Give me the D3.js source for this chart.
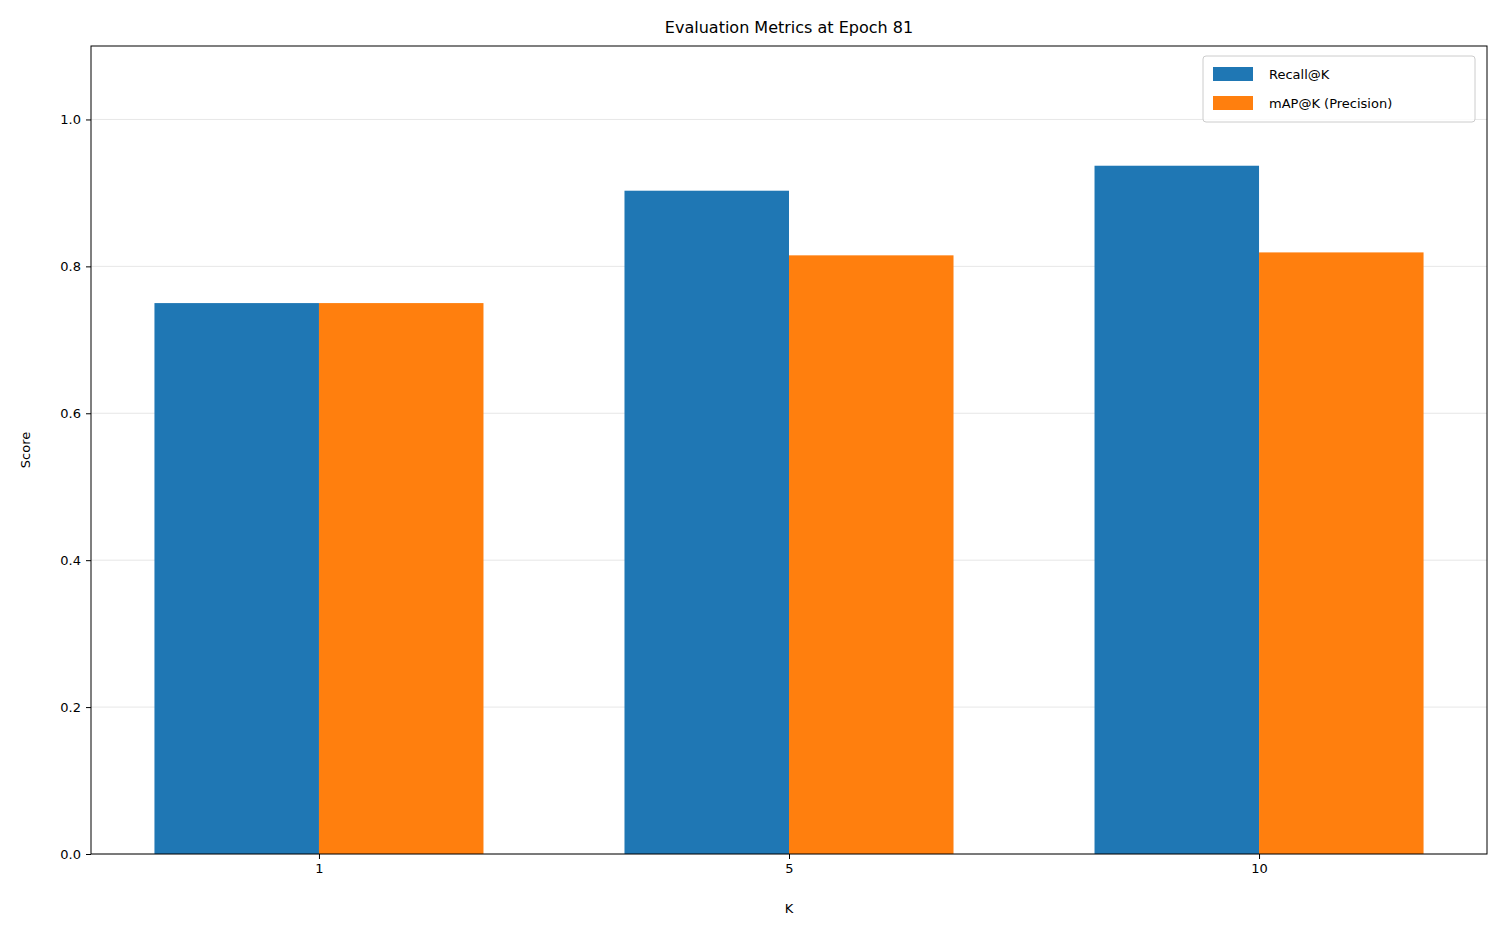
<!DOCTYPE html>
<html>
<head>
<meta charset="utf-8" />
<script src="https://cdn.jsdelivr.net/npm/d3@7/dist/d3.min.js"></script>
<style>
  body { margin: 0; background: #fff; }
  text { font-family: "DejaVu Sans", sans-serif; fill: #000; }
</style>
</head>
<body>
<div id="chart"></div>
<script>
// data
var kLabels = ["1", "5", "10"];
var recall = [0.75, 0.903, 0.937];
var mapK = [0.75, 0.815, 0.819];
var yTicks = [0.0, 0.2, 0.4, 0.6, 0.8, 1.0];
var seriesNames = ["Recall@K", "mAP@K (Precision)"];
var colors = ["#1f77b4", "#ff7f0e"];

var W = 1501, H = 932;
var m = {left: 91, right: 1487, top: 46, bottom: 854};
var barW = 0.35;

var svg = d3.select("#chart").append("svg").attr("width", W).attr("height", H);

var x = d3.scaleLinear().domain([-0.485, 2.485]).range([m.left, m.right]);
var y = d3.scaleLinear().domain([0, 1.1]).range([m.bottom, m.top]);

// grid
svg.append("g").selectAll("line").data(yTicks).enter().append("line")
  .attr("x1", m.left).attr("x2", m.right)
  .attr("y1", function (d) { return y(d); }).attr("y2", function (d) { return y(d); })
  .attr("stroke", "#b0b0b0").attr("stroke-opacity", 0.3).attr("stroke-width", 1);

// bars
[recall, mapK].forEach(function (vals, s) {
  svg.append("g").selectAll("rect").data(vals).enter().append("rect")
    .attr("x", function (d, i) { return x(i - barW + s * barW); })
    .attr("width", x(barW) - x(0))
    .attr("y", function (d) { return y(d); })
    .attr("height", function (d) { return y(0) - y(d); })
    .attr("fill", colors[s]);
});

// axes
var xAxis = d3.axisBottom(x).tickValues([0, 1, 2])
  .tickFormat(function (d) { return kLabels[d]; }).tickSizeOuter(0).tickSize(5).tickPadding(5);
var gx = svg.append("g").attr("transform", "translate(0," + m.bottom + ")").call(xAxis);
var yAxis = d3.axisLeft(y).tickValues(yTicks).tickFormat(d3.format(".1f"))
  .tickSizeOuter(0).tickSize(5).tickPadding(5);
var gy = svg.append("g").attr("transform", "translate(" + m.left + ",0)").call(yAxis);
[gx, gy].forEach(function (g) {
  g.selectAll("text").style("font-size", "13px").style("font-family", "DejaVu Sans");
  g.select(".domain").remove();
});

// frame
svg.append("rect").attr("x", m.left).attr("y", m.top)
  .attr("width", m.right - m.left).attr("height", m.bottom - m.top)
  .attr("fill", "none").attr("stroke", "#000").attr("stroke-width", 1);

// labels
svg.append("text").attr("x", (m.left + m.right) / 2).attr("y", 33)
  .attr("text-anchor", "middle").style("font-size", "16px").text("Evaluation Metrics at Epoch 81");
svg.append("text").attr("x", (m.left + m.right) / 2).attr("y", 913)
  .attr("text-anchor", "middle").style("font-size", "13px").text("K");
svg.append("text").attr("transform", "translate(30," + (m.top + m.bottom) / 2 + ") rotate(-90)")
  .attr("text-anchor", "middle").style("font-size", "13px").text("Score");

// legend
var lg = svg.append("g").attr("transform", "translate(1203,56)");
lg.append("rect").attr("width", 272).attr("height", 66).attr("rx", 3)
  .attr("fill", "#fff").attr("fill-opacity", 0.8).attr("stroke", "#ccc");
seriesNames.forEach(function (n, i) {
  lg.append("rect").attr("x", 10).attr("y", 11 + i * 29).attr("width", 40).attr("height", 14)
    .attr("fill", colors[i]);
  lg.append("text").attr("x", 66).attr("y", 23 + i * 29).style("font-size", "13px").text(n);
});
</script>
</body>
</html>
